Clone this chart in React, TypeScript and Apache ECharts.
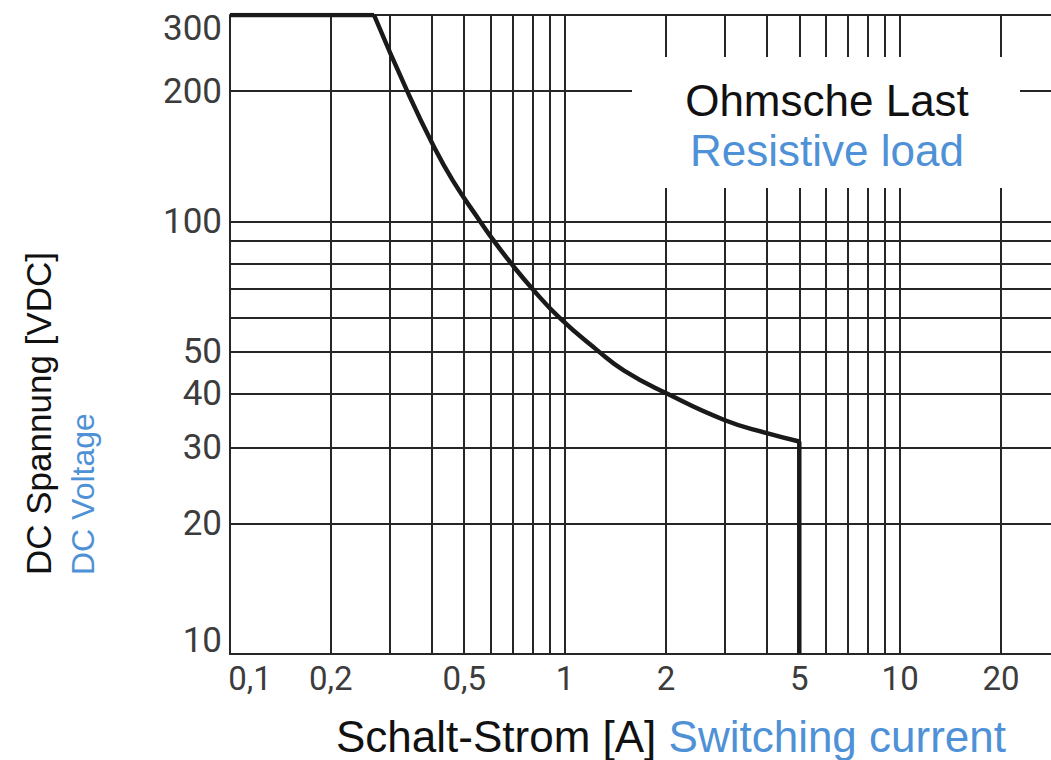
import React, { useEffect, useRef } from 'react';
import * as echarts from 'echarts';

// Grid lines (switching current [A]) and labelled ticks
const X_GRID = [0.1, 0.2, 0.3, 0.4, 0.5, 0.6, 0.7, 0.8, 0.9, 1, 2, 3, 4, 5, 6, 7, 8, 9, 10, 20];
const X_LABELS = [0.1, 0.2, 0.5, 1, 2, 5, 10, 20];
// Grid lines (DC voltage [VDC]) and labelled ticks
const Y_GRID = [10, 20, 30, 40, 50, 60, 70, 80, 90, 100, 200, 300];
const Y_LABELS = [10, 20, 30, 40, 50, 100, 200, 300];

// Load limit curve
const FLAT_X = [0.1, 0.269];
const FLAT_Y = [300, 300];
const CURVE_X = [0.269, 0.338, 0.404, 0.462, 0.558, 0.614, 0.69, 0.797, 0.96, 1.246, 1.5, 2.0, 3.0, 4.0, 5.0];
const CURVE_Y = [300, 200, 150, 124.4, 100, 90, 80, 70, 60, 50.4, 45.2, 40.1, 34.7, 32.4, 31];
const DROP_X = [5, 5];
const DROP_Y = [31, 10];

const X_MIN = 0.1;
const X_MAX = 28.2;
const Y_MIN = 10;
const Y_MAX = 300;

const BLUE = '#4f91d6';
const INK = '#111111';
const GRID_COLOR = '#262626';

const zip = (xs: number[], ys: number[]) => xs.map((x, i) => [x, ys[i]]);
const fmt = (v: number) => String(v).replace('.', ',');

export default function App() {
  const ref = useRef<HTMLDivElement>(null);

  useEffect(() => {
    document.body.style.margin = '0';
    if (!ref.current) return;
    const chart = echarts.init(ref.current, undefined, { renderer: 'svg' });

    const lineStyle = { color: '#1a1a1a', width: 4.5 };

    chart.setOption({
      animation: false,
      backgroundColor: '#ffffff',
      grid: { left: 230, right: 0, top: 15, bottom: 106, containLabel: false },
      xAxis: {
        type: 'log',
        logBase: 10,
        min: X_MIN,
        max: X_MAX,
        axisLine: { show: true, lineStyle: { color: GRID_COLOR, width: 2 } },
        axisTick: { show: false, customValues: X_GRID },
        splitLine: { show: true, lineStyle: { color: GRID_COLOR, width: 2 } },
        minorSplitLine: { show: false },
        axisLabel: {
          customValues: X_LABELS,
          showMinLabel: true,
          showMaxLabel: true,
          margin: 8,
          color: '#3c3c3c',
          fontFamily: 'Roboto',
          fontSize: 33,
          formatter: (v: number) =>
            Math.abs(v - 0.1) < 1e-9 ? '{first|' + fmt(0.1) + '}' : fmt(v),
          rich: { first: { padding: [0, 0, 0, 40] } },
        },
      },
      yAxis: {
        type: 'log',
        logBase: 10,
        min: Y_MIN,
        max: Y_MAX,
        axisLine: { show: true, lineStyle: { color: GRID_COLOR, width: 2 } },
        axisTick: { show: false, customValues: Y_GRID },
        splitLine: { show: true, lineStyle: { color: GRID_COLOR, width: 2 } },
        minorSplitLine: { show: false },
        axisLabel: {
          customValues: Y_LABELS,
          showMinLabel: true,
          showMaxLabel: true,
          margin: 8,
          color: '#3c3c3c',
          fontFamily: 'Roboto',
          fontSize: 35,
          formatter: (v: number) => {
            if (Math.abs(v - Y_MAX) < 1e-6) return '{top|' + fmt(v) + '}';
            if (Math.abs(v - Y_MIN) < 1e-6) return '{bot|' + fmt(v) + '}';
            return fmt(v);
          },
          rich: {
            top: { padding: [27, 0, 0, 0] },
            bot: { padding: [0, 0, 27, 0] },
          },
        },
      },
      series: [
        {
          type: 'line',
          data: zip(FLAT_X, FLAT_Y),
          showSymbol: false,
          symbol: 'none',
          lineStyle,
          z: 5,
        },
        {
          type: 'line',
          data: zip(CURVE_X, CURVE_Y),
          showSymbol: false,
          symbol: 'none',
          smooth: 0.5,
          lineStyle,
          z: 5,
        },
        {
          type: 'line',
          data: zip(DROP_X, DROP_Y),
          showSymbol: false,
          symbol: 'none',
          lineStyle,
          z: 5,
        },
      ],
      graphic: [
        {
          type: 'rect',
          z: 10,
          shape: { x: 632, y: 57, width: 388, height: 131 },
          style: { fill: '#ffffff' },
        },
        {
          type: 'text',
          z: 11,
          x: 827,
          y: 100,
          style: {
            text: 'Ohmsche Last',
            fontFamily: 'Liberation Sans',
            fontSize: 44,
            fill: INK,
            align: 'center',
            verticalAlign: 'middle',
          },
        },
        {
          type: 'text',
          z: 11,
          x: 827,
          y: 150,
          style: {
            text: 'Resistive load',
            fontFamily: 'Liberation Sans',
            fontSize: 44,
            fill: BLUE,
            align: 'center',
            verticalAlign: 'middle',
          },
        },
        {
          type: 'text',
          z: 11,
          x: 38,
          y: 575,
          rotation: Math.PI / 2,
          style: {
            text: 'DC Spannung [VDC]',
            fontFamily: 'Liberation Sans',
            fontSize: 35,
            fill: INK,
            align: 'left',
            verticalAlign: 'middle',
          },
        },
        {
          type: 'text',
          z: 11,
          x: 83,
          y: 575,
          rotation: Math.PI / 2,
          style: {
            text: 'DC Voltage',
            fontFamily: 'Liberation Sans',
            fontSize: 32,
            fill: BLUE,
            align: 'left',
            verticalAlign: 'middle',
          },
        },
        {
          type: 'text',
          z: 11,
          x: 336,
          y: 736,
          style: {
            text: '{a|Schalt-Strom [A]} {b|Switching current}',
            fontFamily: 'Liberation Sans',
            fontSize: 44,
            lineHeight: 42,
            align: 'left',
            verticalAlign: 'middle',
            rich: {
              a: { fill: INK, fontFamily: 'Liberation Sans', fontSize: 44, lineHeight: 42 },
              b: { fill: BLUE, fontFamily: 'Liberation Sans', fontSize: 44, lineHeight: 42 },
            },
          },
        },
      ],
    });

    return () => {
      chart.dispose();
    };
  }, []);

  return <div ref={ref} style={{ width: 1051, height: 760 }} />;
}
